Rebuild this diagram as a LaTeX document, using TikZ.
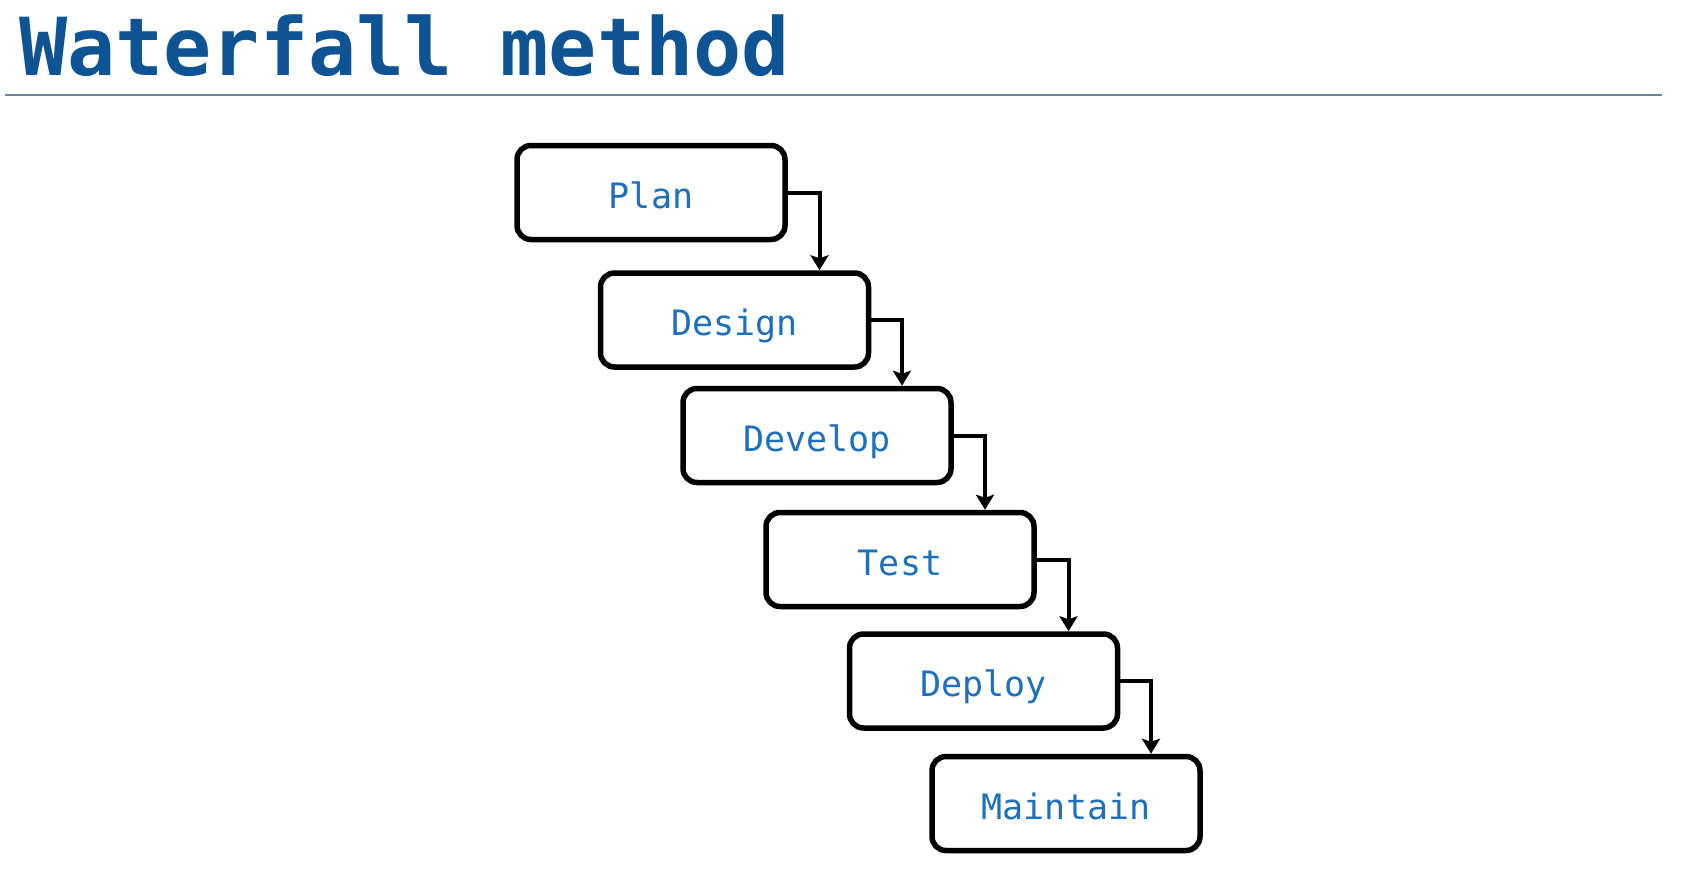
\documentclass[tikz,border=0pt]{standalone}
\usepackage{fontspec}
\setmonofont{DejaVu Sans Mono}
\usepackage{tikz}
\usetikzlibrary{arrows.meta,calc}
\definecolor{titre}{RGB}{14,84,148}
\definecolor{etiq}{RGB}{30,112,188}
\definecolor{filet}{RGB}{105,132,158}
\tikzset{
  stage/.style={draw=black,line width=5.5pt,rounded corners=14pt,fill=white,
                minimum width=268pt,minimum height=94pt,inner sep=0pt,
                text height=31pt,text depth=0pt,
                font=\ttfamily\fontsize{35}{40}\selectfont,text=etiq},
  flow/.style={line width=4pt,-{Stealth[length=15pt,width=18pt,inset=3pt]}}
}

\begin{document}
\begin{tikzpicture}[x=1pt,y=1pt]
      \useasboundingbox (0,0) rectangle (1687,-868);
      \node[anchor=base west,inner sep=0pt,text=titre,
            font=\ttfamily\bfseries\fontsize{80}{90}\selectfont] (titre) at (19,-75) {Waterfall method};
      \draw[filet,line width=1.5pt](5,-95)--(1662,-95);
      \node[stage] (plan) at (651,-192.5){Plan};
      \node[stage] (design) at (734.5,-320){Design};
      \node[stage] (develop) at (817,-435.5){Develop};
      \node[stage] (test) at (900,-559.5){Test};
      \node[stage] (deploy) at (983.5,-681){Deploy};
      \node[stage] (maintain) at (1066,-803.5){Maintain};
      \foreach \a/\b in {plan/design,design/develop,develop/test,test/deploy,deploy/maintain}
        {\draw[flow](\a.east) -| ([xshift=85pt]\b.north);}
    \end{tikzpicture}
\end{document}
